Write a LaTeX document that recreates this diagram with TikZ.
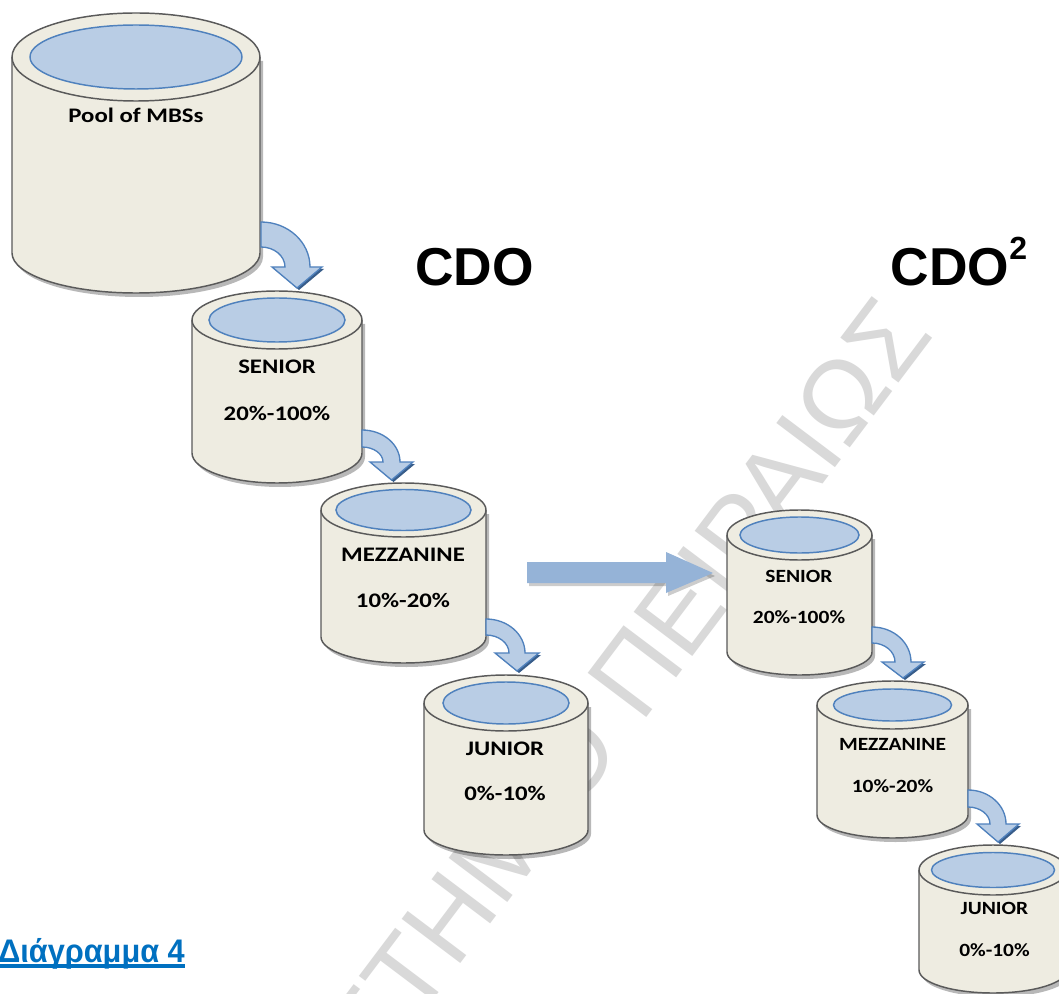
\documentclass[tikz,border=0pt]{standalone}
\usepackage{fontspec}
\usepackage{graphicx}
\newfontfamily\calfont{Carlito}
\newfontfamily\arfont{Liberation Sans}
\definecolor{cylfill}{RGB}{238,236,225}
\definecolor{cyledge}{RGB}{90,90,90}
\definecolor{topfill}{RGB}{185,205,229}
\definecolor{topedge}{RGB}{79,129,189}
\definecolor{bigarrowc}{RGB}{149,179,215}
\definecolor{headshadow}{RGB}{56,93,138}
\definecolor{diagblue}{RGB}{0,112,192}
\definecolor{wmgray}{RGB}{217,217,217}
\newcommand\hsL[1]{\scalebox{1.2}[1]{#1}}
\newcommand\hsR[1]{\scalebox{1.15}[1]{#1}}
% cylinder: #1 cx, #2 ct, #3 cb, #4 rx, #5 ry, #6 ryb, #7 irx, #8 iry
\newcommand\mycyl[8]{%
 \fill[black,opacity=0.28] ({#1-#4+3},{#2+4}) -- ({#1-#4+3},{#3+4}) .. controls ({#1-#4+3},{#3+4+0.552*#6}) and ({#1-0.552*#4+3},{#3+4+#6}) .. ({#1+3},{#3+4+#6}) .. controls ({#1+0.552*#4+3},{#3+4+#6}) and ({#1+#4+3},{#3+4+0.552*#6}) .. ({#1+#4+3},{#3+4}) -- ({#1+#4+3},{#2+4}) -- cycle;
 \fill[cylfill] ({#1-#4},#2) -- ({#1-#4},#3) .. controls ({#1-#4},{#3+0.552*#6}) and ({#1-0.552*#4},{#3+#6}) .. (#1,{#3+#6}) .. controls ({#1+0.552*#4},{#3+#6}) and ({#1+#4},{#3+0.552*#6}) .. ({#1+#4},#3) -- ({#1+#4},#2) -- cycle;
 \draw[cylline] ({#1-#4},#2) -- ({#1-#4},#3) .. controls ({#1-#4},{#3+0.552*#6}) and ({#1-0.552*#4},{#3+#6}) .. (#1,{#3+#6}) .. controls ({#1+0.552*#4},{#3+#6}) and ({#1+#4},{#3+0.552*#6}) .. ({#1+#4},#3) -- ({#1+#4},#2);
 \filldraw[cylline,fill=cylfill] (#1,#2) ellipse[x radius=#4, y radius=#5];
 \filldraw[topline] (#1,#2) ellipse[x radius=#7, y radius=#8];
}
% curved arrow: #1 x0, #2 yo, #3 yi, #4 yb, #5 xi, #6 xo, #7 xl, #8 xr, #9 ytip
\newcommand\myarrow[9]{%
 \fill[headshadow] ({#7+2},{#4+2}) -- ({#8+2},{#4+2}) -- ({(#7+#8)/2+2},{#9+2}) -- cycle;
 \filldraw[arrowline] (#1,#2) .. controls ({#1+0.552*(#6-#1)},#2) and (#6,{#4-0.552*(#4-#2)}) .. (#6,#4) -- (#8,#4) -- ({(#7+#8)/2},#9) -- (#7,#4) -- (#5,#4) .. controls (#5,{#4-0.552*(#4-#3)}) and ({#1+0.552*(#5-#1)},#3) .. (#1,#3) -- cycle;
}
\begin{document}
\begin{tikzpicture}[x=0.75pt,y=-0.75pt,
  cylline/.style={draw=cyledge,line width=1.1pt},
  topline/.style={draw=topedge,fill=topfill,line width=1.1pt},
  arrowline/.style={draw=topedge,fill=topfill,line width=1pt,line join=miter},
  lblL/.style={font=\calfont\bfseries\fontsize{15.5}{18}\selectfont,inner sep=0pt,anchor=base},
  lblR/.style={font=\calfont\bfseries\fontsize{14}{16}\selectfont,inner sep=0pt,anchor=base},
  big/.style={font=\arfont\bfseries\fontsize{40}{44}\selectfont,inner sep=0pt},
  wm/.style={font=\arfont\fontsize{80}{90}\selectfont,text=wmgray,inner sep=0pt,rotate=53}]
\useasboundingbox (0,0) rectangle (1059,994);
\clip (0,0) rectangle (1059,994);
\fill[white] (0,0) rectangle (1059,994);
% watermark
\node[wm,anchor=base east] (wm) at (935,335) {ΠΑΝΕΠΙΣΤΗΜΙΟ ΠΕΙΡΑΙΩΣ};
% cylinders
\mycyl{136}{57}{253}{124}{44}{40}{106}{32}
\mycyl{277}{320}{453}{85}{29}{30}{68}{22}
\mycyl{403.5}{510}{637}{82.5}{27}{26}{67.5}{20.5}
\mycyl{506}{703}{830}{82}{28}{25}{63}{21}
\mycyl{799.5}{535}{652}{72.5}{25}{23}{59.5}{18}
\mycyl{892.5}{705}{815}{75.5}{24}{23}{59}{16}
\mycyl{993}{870}{970}{74}{25}{23}{61.5}{17.5}
% labels
\node[lblL] (pool) at (136,122.7) {\hsL{Pool of MBSs}};
\node[lblL] (sen1) at (277,374) {\hsL{SENIOR}};
\node[lblL] (sen1p) at (277,420.7) {\hsL{20\%-100\%}};
\node[lblL] (mez1) at (403,561.7) {\hsL{MEZZANINE}};
\node[lblL] (mez1p) at (403,607.7) {\hsL{10\%-20\%}};
\node[lblL] (jun1) at (505,755) {\hsL{JUNIOR}};
\node[lblL] (jun1p) at (505,800.7) {\hsL{0\%-10\%}};
\node[lblR] (sen2) at (799,582.7) {\hsR{SENIOR}};
\node[lblR] (sen2p) at (799,623.3) {\hsR{20\%-100\%}};
\node[lblR] (mez2) at (892.5,750.7) {\hsR{MEZZANINE}};
\node[lblR] (mez2p) at (892.5,792.7) {\hsR{10\%-20\%}};
\node[lblR] (jun2) at (994.5,914) {\hsR{JUNIOR}};
\node[lblR] (jun2p) at (994.5,956.7) {\hsR{0\%-10\%}};
% curved arrows
\myarrow{261}{222}{247}{267}{285}{310}{272}{322}{288}
\myarrow{362}{430}{447}{462}{383}{400}{370}{413}{480}
\myarrow{486}{619}{635}{653}{509}{525}{495}{539}{671}
\myarrow{872}{627}{643}{662}{895}{911}{882}{924}{678}
\myarrow{968}{790}{807}{824}{990}{1006}{977}{1019}{842}
% big arrow
\fill[black,opacity=0.2] (529,565) -- (668,565) -- (668,555) -- (715,576) -- (668,596) -- (668,586) -- (529,586) -- cycle;
\fill[bigarrowc] (527,562) -- (666,562) -- (666,552) -- (713,573) -- (666,593) -- (666,583) -- (527,583) -- cycle;
% titles
\node[big,anchor=base] (cdo) at (474.5,286) {CDO};
\node[big,anchor=base west] (cdo2) at (890.5,286) {CDO{\fontsize{24}{24}\selectfont\raisebox{19.5pt}{2}}};
\node[font=\arfont\bfseries\fontsize{24.5}{28}\selectfont,text=diagblue,inner sep=0pt,anchor=base west] (diag) at (-2,962) {\scalebox{0.94}[1]{Διάγραμμα 4}};
\draw[diagblue,line width=2.4pt] ([yshift=-3pt]diag.base west) -- ([yshift=-3pt]diag.base east);
\end{tikzpicture}
\end{document}
